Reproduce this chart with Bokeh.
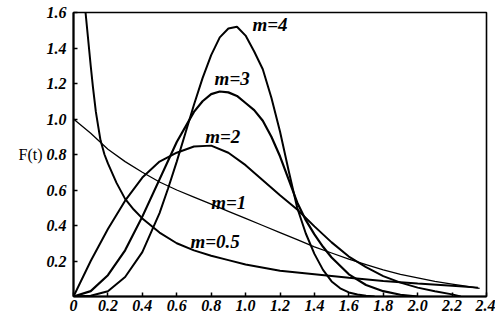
from bokeh.plotting import figure
from bokeh.models import FixedTicker, Label
from bokeh.embed import file_html
from bokeh.resources import INLINE

# ---- data ----
t_m05 = [0.065, 0.07, 0.08, 0.09, 0.1, 0.113, 0.13, 0.145, 0.157, 0.18, 0.2, 0.25, 0.3, 0.35,
         0.4, 0.5, 0.6, 0.7, 0.8, 0.9, 1.0, 1.2, 1.4, 1.6, 1.8, 2.0, 2.2, 2.35]
f_m05 = [1.75, 1.6, 1.5, 1.4, 1.3, 1.18, 1.04, 0.95, 0.88, 0.80, 0.75, 0.64, 0.55, 0.49,
         0.44, 0.36, 0.30, 0.26, 0.23, 0.205, 0.18, 0.145, 0.125, 0.105, 0.088, 0.073, 0.06, 0.05]

t_m1 = [0.0, 0.1, 0.2, 0.3, 0.4, 0.5, 0.6, 0.7, 0.8, 0.9, 1.0, 1.1, 1.2, 1.3, 1.4, 1.5,
        1.6, 1.7, 1.8, 1.9, 2.0, 2.1, 2.2, 2.3, 2.36]
f_m1 = [1.0, 0.92, 0.83, 0.76, 0.70, 0.645, 0.60, 0.56, 0.52, 0.48, 0.44, 0.40, 0.36, 0.32,
        0.28, 0.245, 0.21, 0.18, 0.15, 0.125, 0.105, 0.085, 0.07, 0.055, 0.046]

t_m2 = [0.0, 0.1, 0.2, 0.3, 0.4, 0.5, 0.6, 0.7, 0.8, 0.9, 1.0, 1.1, 1.2, 1.3, 1.4, 1.5,
        1.6, 1.7, 1.8, 1.9, 2.0, 2.1, 2.2, 2.25]
f_m2 = [0.0, 0.2, 0.38, 0.54, 0.67, 0.76, 0.81, 0.845, 0.85, 0.81, 0.74, 0.655, 0.57, 0.49,
        0.395, 0.305, 0.225, 0.165, 0.115, 0.078, 0.05, 0.03, 0.012, 0.0]

t_m3 = [0.0, 0.1, 0.2, 0.3, 0.4, 0.5, 0.6, 0.7, 0.75, 0.8, 0.85, 0.9, 0.95, 1.0, 1.05, 1.1,
        1.15, 1.2, 1.25, 1.3, 1.35, 1.4, 1.45, 1.5, 1.6, 1.7, 1.8, 1.9, 2.0]
f_m3 = [0.0, 0.03, 0.12, 0.26, 0.45, 0.66, 0.87, 1.04, 1.10, 1.14, 1.155, 1.15, 1.13, 1.09,
        1.05, 0.99, 0.90, 0.79, 0.66, 0.53, 0.43, 0.35, 0.28, 0.22, 0.125, 0.065, 0.03, 0.01, 0.0]

t_m4 = [0.0, 0.1, 0.2, 0.3, 0.4, 0.5, 0.55, 0.6, 0.65, 0.7, 0.75, 0.8, 0.85, 0.9, 0.95, 1.0,
        1.05, 1.1, 1.15, 1.2, 1.25, 1.3, 1.35, 1.4, 1.45, 1.5, 1.55, 1.6, 1.65, 1.7, 1.75]
f_m4 = [0.0, 0.004, 0.03, 0.11, 0.25, 0.47, 0.61, 0.76, 0.92, 1.08, 1.23, 1.36, 1.46, 1.51,
        1.52, 1.47, 1.38, 1.28, 1.12, 0.93, 0.71, 0.50, 0.355, 0.24, 0.15, 0.085, 0.046, 0.023,
        0.011, 0.004, 0.0]

x_ticks = [0, 0.2, 0.4, 0.6, 0.8, 1.0, 1.2, 1.4, 1.6, 1.8, 2.0, 2.2, 2.4]
x_tick_labels = ["0", "0.2", "0.4", "0.6", "0.8", "1.0", "1.2", "1.4", "1.6", "1.8", "2.0", "2.2", "2.4"]
y_ticks = [0.2, 0.4, 0.6, 0.8, 1.0, 1.2, 1.4, 1.6]
y_tick_labels = ["0.2", "0.4", "0.6", "0.8", "1.0", "1.2", "1.4", "1.6"]

curve_labels = ["m=4", "m=3", "m=2", "m=1", "m=0.5"]
# label anchor positions (annotation placement, data units)
label_x = [1.04, 0.82, 0.765, 0.80, 0.68]
label_y = [1.53, 1.23, 0.90, 0.53, 0.31]

FONT = "Liberation Serif"

p = figure(width=495, height=318, x_range=(0, 2.4), y_range=(0, 1.6),
           output_backend="svg", toolbar_location=None,
           min_border_left=73, min_border_right=9, min_border_top=12, min_border_bottom=22)

p.xgrid.visible = False
p.ygrid.visible = False
p.background_fill_color = "white"
p.border_fill_color = "white"
p.outline_line_color = "black"
p.outline_line_width = 1.6

for ax in (p.xaxis[0], p.yaxis[0]):
    ax.axis_line_color = "black"
    ax.axis_line_width = 2
    ax.major_tick_in = 4
    ax.major_tick_out = 0
    ax.major_tick_line_width = 1.5
    ax.minor_tick_line_color = None
    ax.major_label_text_font = FONT
    ax.major_label_text_font_style = "bold italic"
    ax.major_label_text_font_size = "16px"
    ax.major_label_text_color = "black"

p.xaxis.ticker = FixedTicker(ticks=x_ticks)
p.xaxis.major_label_overrides = {t: s for t, s in zip(x_ticks, x_tick_labels)}
p.xaxis.major_label_standoff = 3
p.yaxis.ticker = FixedTicker(ticks=y_ticks)
p.yaxis.major_label_overrides = {t: s for t, s in zip(y_ticks, y_tick_labels)}
p.yaxis.major_label_standoff = 7
p.yaxis.axis_label = "F(t)"
p.yaxis.axis_label_orientation = "horizontal"
p.yaxis.axis_label_standoff = 1
p.yaxis.axis_label_text_font = FONT
p.yaxis.axis_label_text_font_style = "normal"
p.yaxis.axis_label_text_font_size = "16px"
p.yaxis.axis_label_text_color = "black"

p.line(t_m05, f_m05, line_color="black", line_width=2)
p.line(t_m1, f_m1, line_color="black", line_width=1.3)
p.line(t_m2, f_m2, line_color="black", line_width=2)
p.line(t_m3, f_m3, line_color="black", line_width=2.2)
p.line(t_m4, f_m4, line_color="black", line_width=2)

for txt, lx, ly in zip(curve_labels, label_x, label_y):
    p.add_layout(Label(x=lx, y=ly, text=txt, text_font=FONT, text_font_style="bold italic",
                       text_font_size="19px", text_color="black",
                       text_align="left", text_baseline="middle"))

open("out.html", "w").write(file_html(p, INLINE))
